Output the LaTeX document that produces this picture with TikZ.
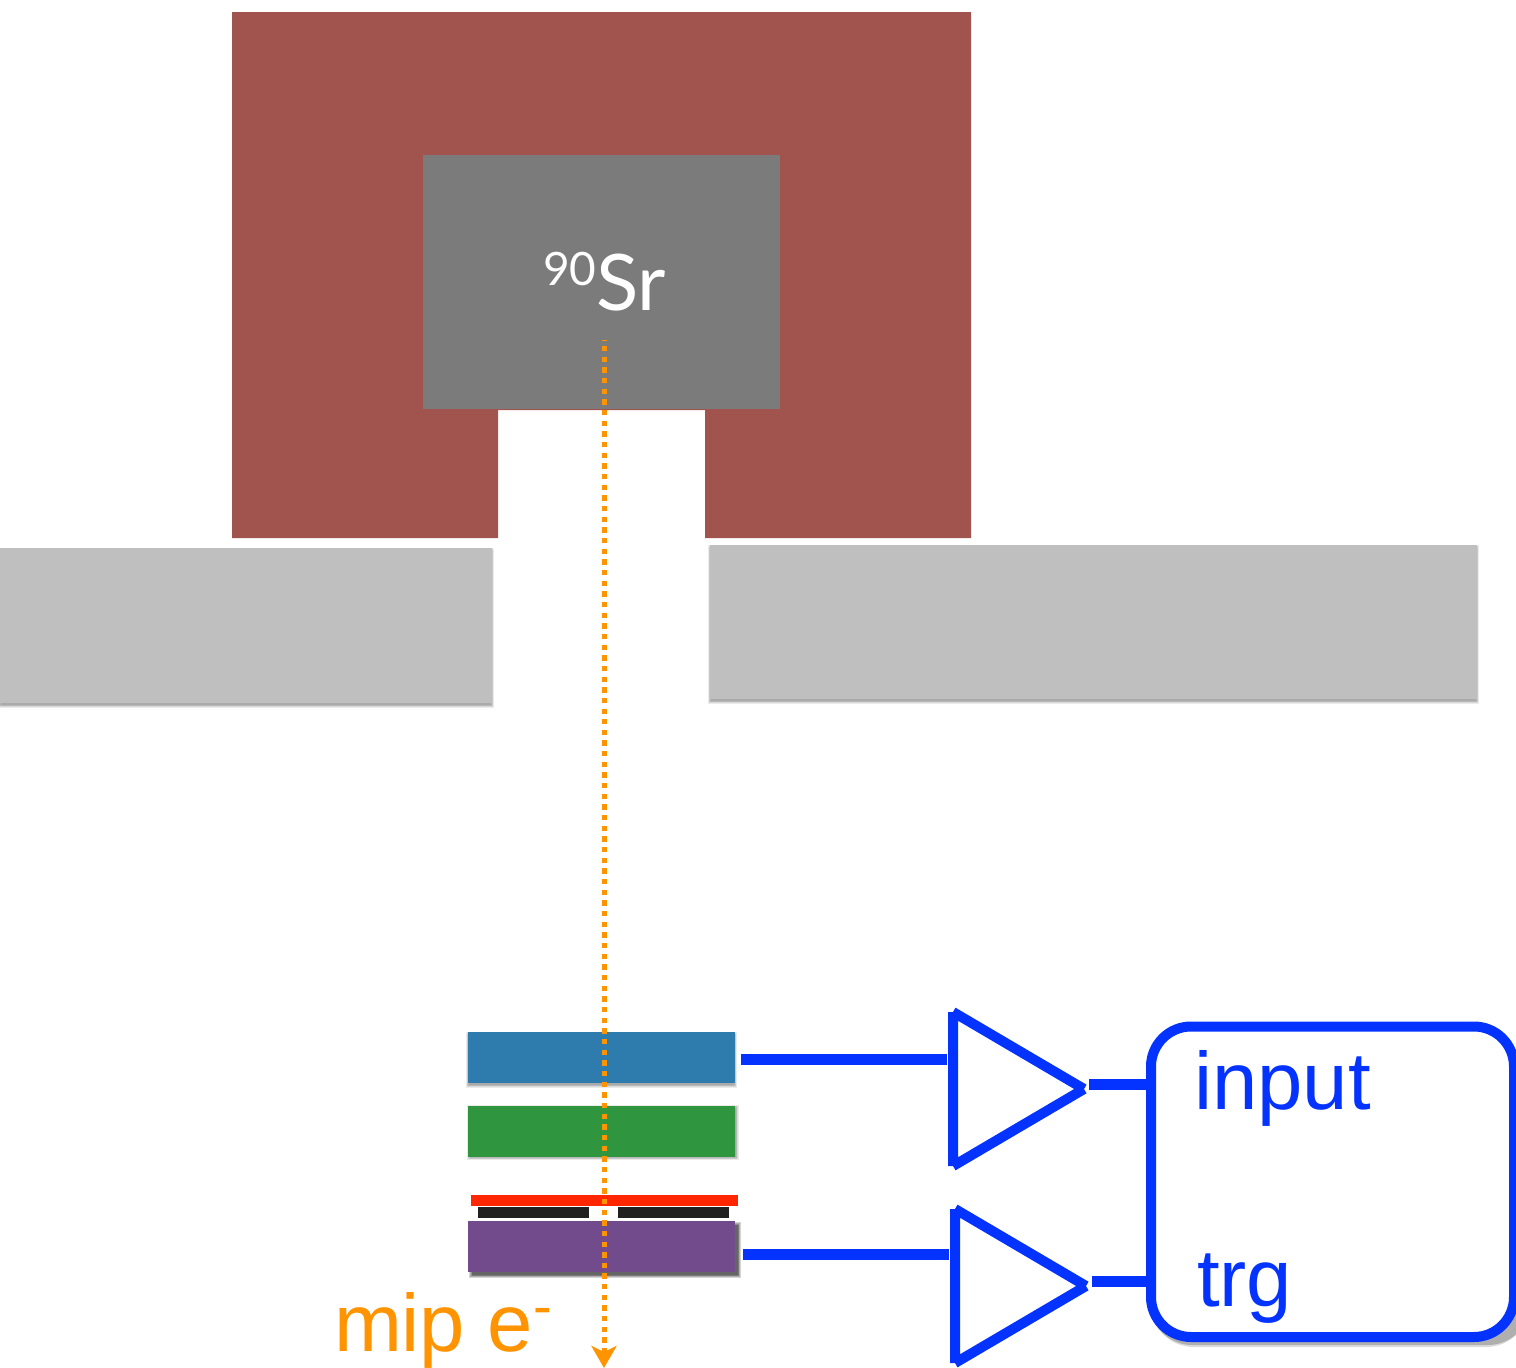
\documentclass[tikz,border=0pt]{standalone}
\usepackage{fontspec}
\setmainfont{Liberation Sans}
\newfontfamily\gillfont{Lato}
\usetikzlibrary{arrows.meta,calc}
\definecolor{shieldc}{HTML}{A0544D}
\definecolor{sourcec}{HTML}{7B7B7B}
\definecolor{slabc}{HTML}{BFBFBF}
\definecolor{detblue}{HTML}{2E7BAE}
\definecolor{detgreen}{HTML}{2F963F}
\definecolor{detpurple}{HTML}{724B8C}
\definecolor{foilred}{HTML}{FF2600}
\definecolor{padblack}{HTML}{212121}
\definecolor{beamorange}{HTML}{FF9300}
\definecolor{wireblue}{HTML}{0433FF}
\newcommand{\softshadow}[7]{% x1 y1 x2 y2 dx dy layeropacity
  \foreach \blurstep in {3,2,1,0,-1}{
    \fill[black,opacity=#7]
      ($(#1,#2)+(#5,#6)+(-\blurstep*0.7,-\blurstep*0.7)$) rectangle
      ($(#3,#4)+(#5,#6)+(\blurstep*0.7,\blurstep*0.7)$);
  }}
\tikzset{
  x=1pt,y=-1pt,
  plate/.style={draw=none,inner sep=0pt,outer sep=0pt,minimum width=#1},
  detector/.style={plate=267pt,minimum height=51pt},
  wire/.style={draw=wireblue,line width=11pt},
  ampline/.style={draw=wireblue,line width=10pt},
  bigtext/.style={inner sep=0pt,outer sep=0pt,anchor=base west,text=wireblue,font=\fontsize{81.5}{81.5}\selectfont},
  beam/.style={draw=beamorange,line width=5pt,dash pattern=on 5.33pt off 5.33pt,dash phase=4.6pt,
    -{Stealth[length=22pt,width=25pt,inset=6pt,fill=beamorange]}}
}
\begin{document}
\begin{tikzpicture}
\useasboundingbox (0,0) rectangle (1516,1368);
\clip (0,0) rectangle (1516,1368);
% shield
\fill[shieldc] (232,12) -- (971,12) -- (971,538) -- (705,538) -- (705,410) -- (498,410) -- (498,538) -- (232,538) -- cycle;
\node[plate=357pt,minimum height=254pt,fill=sourcec,anchor=north west] (source) at (423,155) {};
\node[inner sep=0pt,outer sep=0pt,anchor=base west,text=white,font=\gillfont\fontsize{78}{78}\selectfont] (srlabel) at (543,310)
  {\raisebox{25pt}{\fontsize{46}{46}\selectfont 90}Sr};
% slabs
\softshadow{0}{548}{492}{703}{0}{2.5}{0.08}
\softshadow{710}{545}{1477}{699}{0}{2.5}{0.08}
\node[plate=492pt,minimum height=155pt,fill=slabc,anchor=north west] (slabl) at (0,548) {};
\node[plate=767pt,minimum height=154pt,fill=slabc,anchor=north west] (slabr) at (710,545) {};
% detectors
\softshadow{468}{1032}{735}{1083}{0}{2.5}{0.08}
\softshadow{468}{1106}{735}{1157}{1.5}{1}{0.08}
\softshadow{468}{1221}{735}{1272}{3.5}{3.5}{0.17}
\node[detector,fill=detblue,anchor=north west] (det1) at (468,1032) {};
\node[detector,fill=detgreen,anchor=north west] (det2) at (468,1106) {};
\node[detector,fill=detpurple,anchor=north west] (det3) at (468,1221) {};
\node[plate=267pt,minimum height=11pt,fill=foilred,anchor=north west] (foil) at (470.5,1195) {};
\node[plate=111pt,minimum height=11pt,fill=padblack,anchor=north west] (padl) at (478,1207) {};
\node[plate=111pt,minimum height=11pt,fill=padblack,anchor=north west] (padr) at (618,1207) {};
% beam
\coordinate (beamstart) at (604,340);
\coordinate (beamend) at (604,1368);
\draw[beam] (beamstart) -- (beamend);
\node[bigtext,text=beamorange] (miplabel) at (334,1351) {mip e\raisebox{26pt}{\fontsize{56}{56}\selectfont -}};
% readout box
\fill[black,opacity=0.14,rounded corners=44pt] (1150,1040) rectangle (1530,1347);
\fill[black,opacity=0.2,rounded corners=42pt] (1150,1040) rectangle (1530,1345);
\node[draw=wireblue,line width=10pt,fill=white,rounded corners=40pt,inner sep=0pt,outer sep=0pt,
  minimum width=363pt,minimum height=310.5pt,anchor=north west] (daq) at (1151,1026.5) {};
\node[bigtext] (inputlabel) at (1194,1109) {input};
\node[bigtext] (trglabel) at (1197,1306) {trg};
% amplifiers
\coordinate (a1t) at (953,1012);
\coordinate (a1b) at (953,1166);
\coordinate (a1o) at (1084,1089);
\coordinate (a2t) at (955,1209);
\coordinate (a2b) at (955,1363);
\coordinate (a2o) at (1086,1286);
\draw[ampline] (a1t) -- (a1b) (a1t) -- (a1o) (a1b) -- (a1o);
\draw[ampline] (a2t) -- (a2b) (a2t) -- (a2o) (a2b) -- (a2o);
% wires
\coordinate (w1a) at (741,1059);
\coordinate (w1b) at (947,1059);
\coordinate (w2a) at (743,1254);
\coordinate (w2b) at (949,1254);
\coordinate (w3a) at (1089,1084);
\coordinate (w4a) at (1092,1281);
\draw[wire] (w1a) -- (w1b);
\draw[wire] (w2a) -- (w2b);
\draw[wire] (w3a) -- (w3a -| daq.west);
\draw[wire] (w4a) -- (w4a -| daq.west);
\end{tikzpicture}
\end{document}
